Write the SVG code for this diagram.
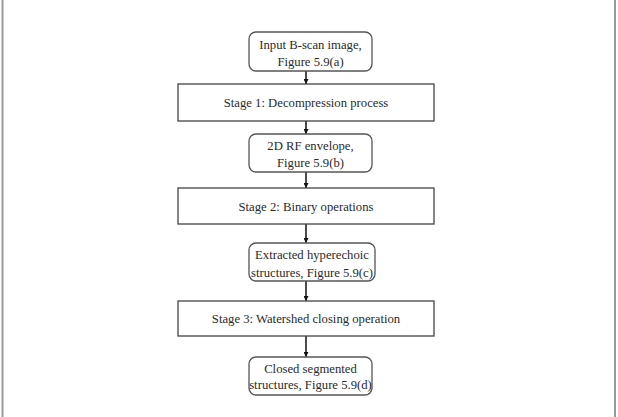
<svg xmlns="http://www.w3.org/2000/svg" width="618" height="417" viewBox="0 0 618 417" font-family="'Liberation Serif', 'Times New Roman', serif">
<defs>
<style>
.rb{fill:#fff;stroke:#555;stroke-width:1.3}
.sb{fill:#fff;stroke:#444;stroke-width:1.3}
text{font-family:'Liberation Serif','Times New Roman',serif;font-size:12.7px;fill:#2a2a2a;text-anchor:middle}
.c{stroke:#111;stroke-width:1.5;fill:none}
</style>
<marker id="ah" viewBox="0 0 10 10" refX="10" refY="5" markerWidth="5" markerHeight="5" orient="auto" markerUnits="userSpaceOnUse">
<path d="M0,0 L10,5 L0,10 z" fill="#111"/>
</marker>
</defs>
<rect width="618" height="417" fill="#fff"/>
<line x1="2.5" y1="0" x2="2.5" y2="417" stroke="#999" stroke-width="2"/>
<line x1="615" y1="0" x2="615" y2="417" stroke="#999" stroke-width="2"/>
<g id="connectors">
<line class="c" x1="306" y1="71" x2="306" y2="84" marker-end="url(#ah)"/>
<line class="c" x1="306" y1="121" x2="306" y2="134" marker-end="url(#ah)"/>
<line class="c" x1="306" y1="172" x2="306" y2="188" marker-end="url(#ah)"/>
<line class="c" x1="306" y1="224" x2="306" y2="243" marker-end="url(#ah)"/>
<line class="c" x1="306" y1="281" x2="306" y2="301" marker-end="url(#ah)"/>
<line class="c" x1="306" y1="336" x2="306" y2="357" marker-end="url(#ah)"/>
</g>
<g id="input">
<rect class="rb" x="249" y="32" width="123" height="39" rx="7"/>
<text x="310.5" y="49">Input B-scan image,</text>
<text x="310.5" y="66">Figure 5.9(a)</text>
</g>
<g id="stage1">
<rect class="sb" x="178" y="84" width="256" height="37"/>
<text x="306" y="107">Stage 1: Decompression process</text>
</g>
<g id="rf">
<rect class="rb" x="249" y="134" width="123" height="38" rx="7"/>
<text x="310.5" y="150">2D RF envelope,</text>
<text x="310.5" y="167">Figure 5.9(b)</text>
</g>
<g id="stage2">
<rect class="sb" x="178" y="188" width="256" height="36"/>
<text x="306" y="211">Stage 2: Binary operations</text>
</g>
<g id="extracted">
<rect class="rb" x="249" y="243" width="126" height="38" rx="7"/>
<text x="312" y="259">Extracted hyperechoic</text>
<text x="312" y="277">structures, Figure 5.9(c)</text>
</g>
<g id="stage3">
<rect class="sb" x="178" y="301" width="256" height="35"/>
<text x="306" y="323">Stage 3: Watershed closing operation</text>
</g>
<g id="closed">
<rect class="rb" x="249" y="357" width="123" height="38" rx="7"/>
<text x="310.5" y="373">Closed segmented</text>
<text x="310.5" y="389">structures, Figure 5.9(d)</text>
</g>
</svg>
